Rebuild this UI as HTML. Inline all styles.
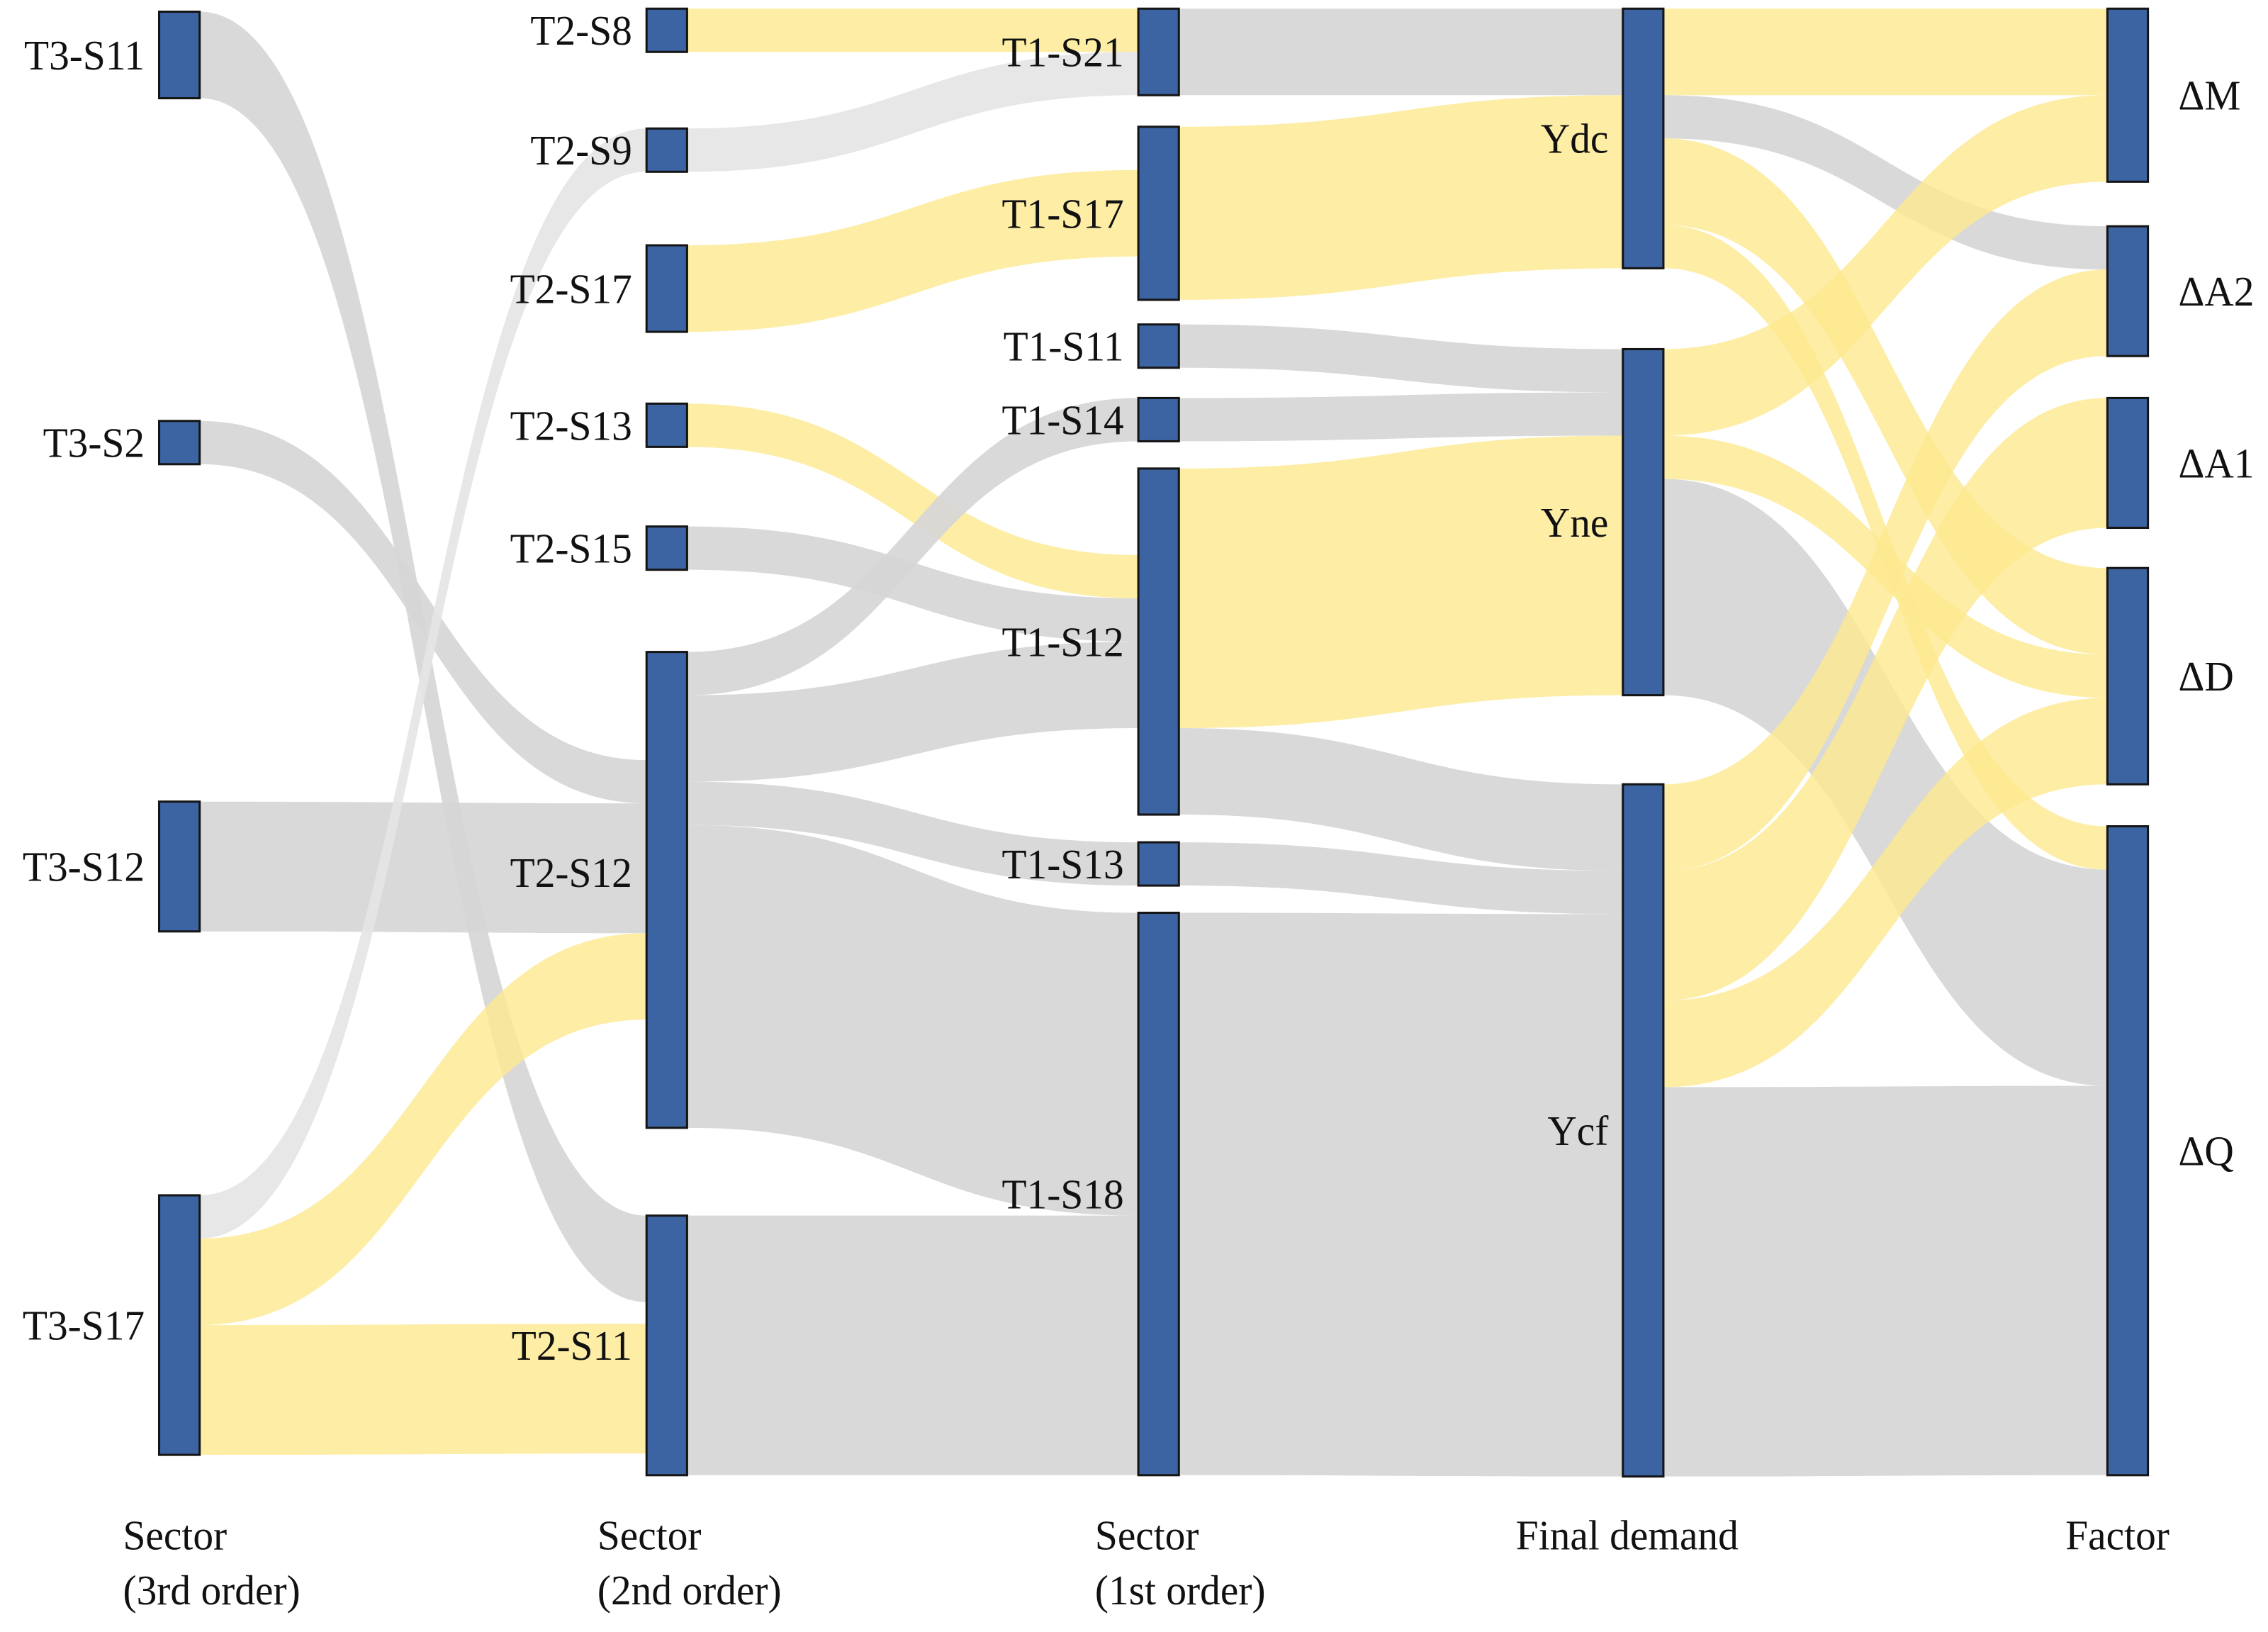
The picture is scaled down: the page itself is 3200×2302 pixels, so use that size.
<!DOCTYPE html>
<html><head><meta charset="utf-8"><style>
html,body{margin:0;padding:0;background:#fff;}
svg{display:block;}
text{font-family:"Liberation Serif",serif;fill:#111;}
</style></head><body>
<svg id="chart" width="3200" height="2302" viewBox="0 0 1568 1128" xmlns="http://www.w3.org/2000/svg">
<g id="links"></g>
<g id="nodes"></g>
<g id="labels"></g>
<g id="titles"></g>
</svg>
<script>
// ---- data ----
const nodeNames = ["T3-S11","T3-S2","T3-S12","T3-S17",
 "T2-S8","T2-S9","T2-S17","T2-S13","T2-S15","T2-S12","T2-S11",
 "T1-S21","T1-S17","T1-S11","T1-S14","T1-S12","T1-S13","T1-S18",
 "Ydc","Yne","Ycf",
 "\u0394M","\u0394A2","\u0394A1","\u0394D","\u0394Q"];
const nodeColumn = [0,0,0,0, 1,1,1,1,1,1,1, 2,2,2,2,2,2,2, 3,3,3, 4,4,4,4,4];
const nodeStart = [0.07,9.53,18.33,27.43, 0,2.77,5.47,9.13,11.97,14.87,27.9, 0,2.73,7.3,9,10.63,19.27,20.9, 0,7.87,17.93, 0,5.03,9,12.93,18.9];
const nodeValue = [2,1,3,6, 1,1,2,1,1,11,6, 2,4,1,1,8,1,13, 6,8,16, 4,3,3,5,15];
// links: source, target, value, target offset (units), type (0 gray,1 yellow,2 light gray)
const linkSource = [0,1,2,3,3,3, 4,5,6,7,8,9,9,9,9,10, 11,12,13,14,15,15,16,17, 18,18,18,18,19,19,19,20,20,20,20];
const linkTarget = [10,9,9,5,9,10, 11,11,12,15,15,14,15,16,17,17, 18,18,19,19,19,20,20,20, 21,22,24,25,21,24,25,22,23,24,25];
const linkValue  = [2,1,3,1,2,3, 1,1,2,1,1,1,2,1,7,6, 2,4,1,1,6,2,1,13, 2,1,2,1,2,1,5,2,3,2,9];
const linkTOff   = [0,2.5,3.5,0,6.5,2.5, 0,1,1,2,3,0,4,0,0,7, 0,2,0,1,2,0,2,3, 0,0,0,0,2,2,1,1,0,3,6];
const linkType   = [0,0,0,2,1,1, 1,2,1,1,0,0,0,0,0,0, 0,1,0,0,1,0,0,0, 1,0,1,1,1,1,0,1,1,1,0];
const colTitles1 = ["Sector","Sector","Sector","Final demand","Factor"];
const colTitles2 = ["(3rd order)","(2nd order)","(1st order)","",""];
// ---- scales ----
const colX = c => [110,447,787,1122,1457][c];
const NW = 28;
const yS = v => 6 + v*29.9;
const NS = "http://www.w3.org/2000/svg";
const linksG = document.getElementById('links');
const nodesG = document.getElementById('nodes');
const labelsG = document.getElementById('labels');
const titlesG = document.getElementById('titles');
const srcUsed = nodeValue.map(()=>0);
const fills = ["#d6d6d6","#fce98f","#e4e4e4"];
const ops = [0.92,0.8,0.9];
for (let i=0;i<linkSource.length;i++){
  const s=linkSource[i], t=linkTarget[i], v=linkValue[i];
  const x0=colX(nodeColumn[s])+NW, x1=colX(nodeColumn[t]);
  const sy0=yS(nodeStart[s]+srcUsed[s]), sy1=yS(nodeStart[s]+srcUsed[s]+v);
  srcUsed[s]+=v;
  const ty0=yS(nodeStart[t]+linkTOff[i]), ty1=yS(nodeStart[t]+linkTOff[i]+v);
  const xm=(x0+x1)/2;
  const p=document.createElementNS(NS,'path');
  p.setAttribute('d',`M${x0},${sy0} C${xm},${sy0} ${xm},${ty0} ${x1},${ty0} L${x1},${ty1} C${xm},${ty1} ${xm},${sy1} ${x0},${sy1} Z`);
  p.setAttribute('fill',fills[linkType[i]]);
  p.setAttribute('fill-opacity',ops[linkType[i]]);
  
  
  linksG.appendChild(p);
}
for (let i=0;i<nodeNames.length;i++){
  const c=nodeColumn[i], x=colX(c), y0=yS(nodeStart[i]), y1=yS(nodeStart[i]+nodeValue[i]);
  const r=document.createElementNS(NS,'rect');
  r.setAttribute('x',x); r.setAttribute('y',y0); r.setAttribute('width',NW); r.setAttribute('height',y1-y0);
  r.setAttribute('fill','#3d64a2'); r.setAttribute('stroke','#151515'); r.setAttribute('stroke-width','1.5');
  
  
  nodesG.appendChild(r);
  const tx=document.createElementNS(NS,'text');
  let cy=(y0+y1)/2+10;
  if (nodeNames[i]==="T2-S12") cy-=12;
  let lx = c===4 ? x+NW+21 : x-10;
  tx.setAttribute('transform',`translate(${lx},${cy}) scale(0.97,1)`);
  tx.setAttribute('text-anchor', c===4 ? 'start' : 'end');
  tx.setAttribute('font-size','29');
  tx.textContent=nodeNames[i];
  
  
  labelsG.appendChild(tx);
}
const titleX=[85,413,757,1048,1428];
for (let c=0;c<5;c++){
  [colTitles1[c],colTitles2[c]].forEach((s,k)=>{
    if(!s) return;
    const tx=document.createElementNS(NS,'text');
    tx.setAttribute('transform',`translate(${titleX[c]},${1071+k*38}) scale(0.97,1)`);
    tx.setAttribute('font-size','29');
    tx.textContent=s;
    
    
    titlesG.appendChild(tx);
  });
}
</script>
</body></html>
